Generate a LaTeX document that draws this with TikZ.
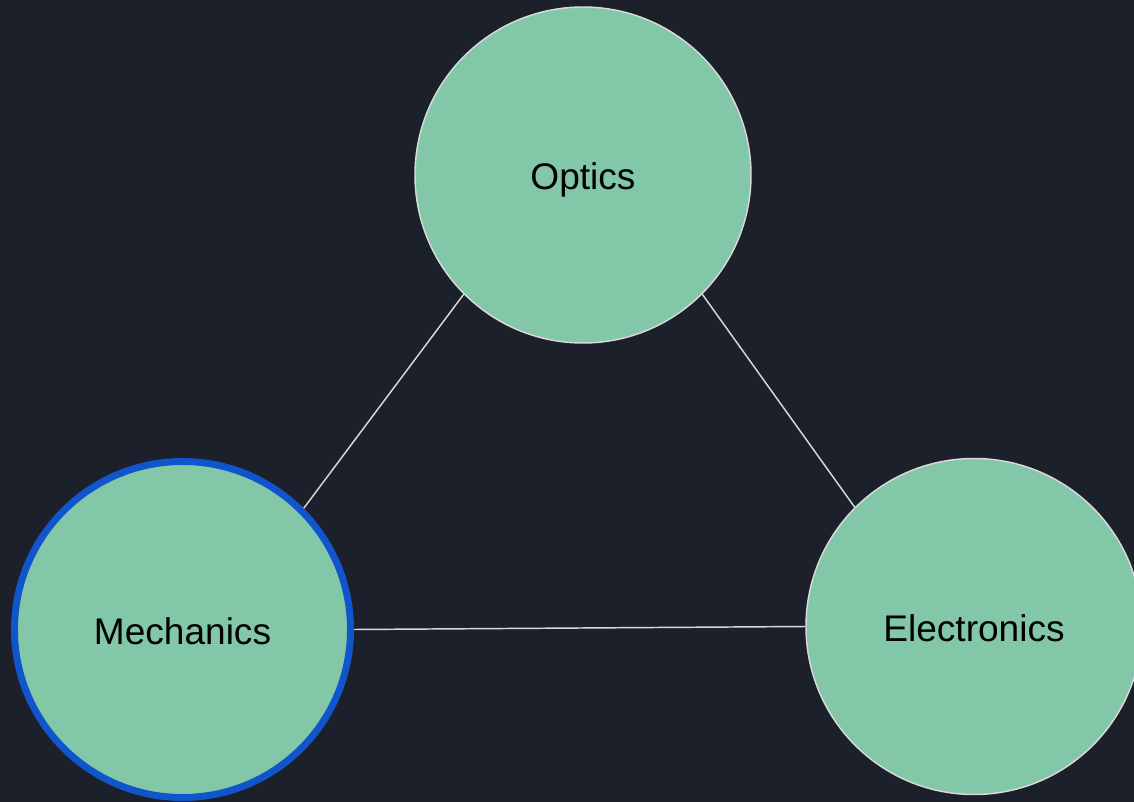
\documentclass[tikz,border=0pt]{standalone}
\usepackage{fontspec}
\setmainfont{Liberation Sans}
\definecolor{bg}{HTML}{1C202B}
\definecolor{nodegreen}{HTML}{82C7A8}
\definecolor{ringblue}{HTML}{1155CC}
\definecolor{edgegray}{HTML}{D9D9D9}
\begin{document}
\begin{tikzpicture}[x=0.75pt,y=-0.75pt,
  topic/.style={circle,fill=nodegreen,draw=edgegray,line width=1.1pt,
    minimum size=252pt,inner sep=0pt,text=black,
    text height=22pt,text depth=0pt,
    font=\fontsize{27.8}{32}\selectfont},
  selected/.style={draw=ringblue,line width=5.2pt},
  link/.style={draw=edgegray,line width=1.1pt}]
\fill[bg] (0,0) rectangle (1134,802);
\useasboundingbox (0,0) rectangle (1134,802);
\node[topic] (opt) at (583,175) {Optics};
\node[topic,selected] (mech) at (182.5,629.5) {Mechanics};
\node[topic] (elec) at (974,626.5) {Electronics};
\draw[link] (opt.225) -- (mech.45);
\draw[link] (opt.315) -- (elec.135);
\draw[link] (mech.east) -- (elec.west);
\end{tikzpicture}
\end{document}
